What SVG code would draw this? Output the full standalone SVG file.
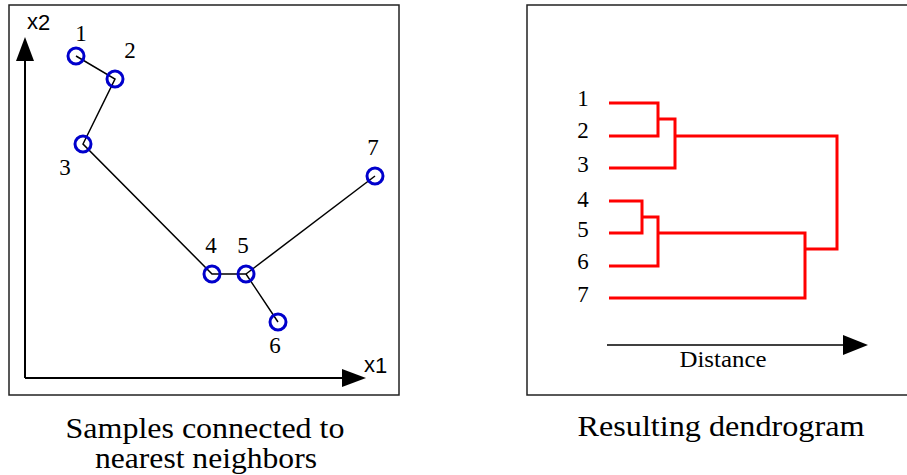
<svg xmlns="http://www.w3.org/2000/svg" width="907" height="475" viewBox="0 0 907 475">
<style>
.frame{fill:#fff;stroke:#222;stroke-width:1.5}
.edge{stroke:#000;stroke-width:1.5;fill:none}
.pt{fill:none;stroke:#0000cc;stroke-width:3}
.num{font-family:'Liberation Serif','Times New Roman',Tinos,'Nimbus Roman',Times,serif;font-size:23px;fill:#000;text-anchor:middle}
.ax{font-family:'Liberation Sans',Arial,Arimo,Helvetica,sans-serif;font-size:22px;fill:#000}
.cap{font-family:'Liberation Serif','Times New Roman',Tinos,'Nimbus Roman',Times,serif;font-size:29px;fill:#000;text-anchor:middle}
.den{stroke:#ff0000;stroke-width:3;fill:none;stroke-linejoin:miter}
</style>
<rect width="907" height="475" fill="#fff"/>
<g id="panel-left">
<rect class="frame" x="9" y="5" width="390" height="390"/>
<g id="axes">
<line x1="25" y1="378" x2="25" y2="58" stroke="#000" stroke-width="2"/>
<polygon points="25,37 16,61 34,61" fill="#000"/>
<line x1="25" y1="378" x2="345" y2="378" stroke="#000" stroke-width="2"/>
<polygon points="366,378 342,369 342,387" fill="#000"/>
<text class="ax" x="27" y="29">x<tspan dy="1">2</tspan></text>
<text class="ax" x="364" y="372">x<tspan dy="1">1</tspan></text>
</g>
<g id="connectors">
<polyline class="edge" points="76,56 115,79 83,144 212,274 246,274 278,322"/>
<line class="edge" x1="246" y1="274" x2="375" y2="176"/>
</g>
<g id="p1"><circle class="pt" cx="76" cy="56" r="8"/><text class="num" x="81" y="41">1</text></g>
<g id="p2"><circle class="pt" cx="115" cy="79" r="8"/><text class="num" x="130" y="58">2</text></g>
<g id="p3"><circle class="pt" cx="83" cy="144" r="8"/><text class="num" x="65" y="175">3</text></g>
<g id="p4"><circle class="pt" cx="212" cy="274" r="8"/><text class="num" x="211" y="253">4</text></g>
<g id="p5"><circle class="pt" cx="246" cy="274" r="8"/><text class="num" x="243" y="253">5</text></g>
<g id="p6"><circle class="pt" cx="278" cy="322" r="8"/><text class="num" x="275" y="353">6</text></g>
<g id="p7"><circle class="pt" cx="375" cy="176" r="8"/><text class="num" x="373" y="155">7</text></g>
<text class="cap" x="205" y="438" textLength="279" lengthAdjust="spacingAndGlyphs">Samples connected to</text>
<text class="cap" x="206" y="468" textLength="222" lengthAdjust="spacingAndGlyphs">nearest neighbors</text>
</g>
<g id="panel-right">
<rect class="frame" x="527" y="5" width="390" height="390"/>
<g id="leaf-labels">
<text class="num" x="583" y="106">1</text>
<text class="num" x="583" y="138">2</text>
<text class="num" x="583" y="172">3</text>
<text class="num" x="583" y="207">4</text>
<text class="num" x="583" y="237">5</text>
<text class="num" x="583" y="269">6</text>
<text class="num" x="583" y="302">7</text>
</g>
<g id="dendrogram">
<polyline class="den" points="609,103 658,103 658,136 609,136"/>
<polyline class="den" points="658,119 675,119 675,168 609,168"/>
<polyline class="den" points="675,136 837,136 837,249 805,249"/>
<polyline class="den" points="609,201 642,201 642,233 609,233"/>
<polyline class="den" points="642,217 658,217 658,266 609,266"/>
<polyline class="den" points="658,233 805,233 805,298 609,298"/>
</g>
<g id="distance-axis">
<line x1="607" y1="345" x2="846" y2="345" stroke="#000" stroke-width="1.5"/>
<polygon points="868,345 843,335 843,355" fill="#000"/>
<text class="num" x="723" y="367" textLength="87" lengthAdjust="spacingAndGlyphs">Distance</text>
</g>
<text class="cap" x="721" y="436" textLength="287" lengthAdjust="spacingAndGlyphs">Resulting dendrogram</text>
</g>
</svg>
